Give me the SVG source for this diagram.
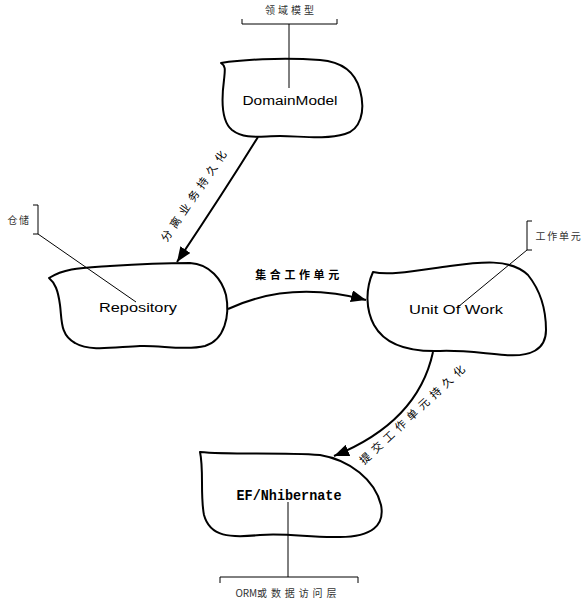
<svg xmlns="http://www.w3.org/2000/svg" width="588" height="607" viewBox="0 0 588 607">
<style>
.shape{fill:#fff;stroke:#000;stroke-width:2;stroke-linejoin:round}
.conn{fill:none;stroke:#000;stroke-width:2}
.co{fill:none;stroke:#000;stroke-width:1}
.lbl{font-family:"Liberation Sans",Arial,sans-serif;font-size:12px;fill:#000;text-anchor:middle}
.cn{font-family:"Noto Sans CJK SC",sans-serif;font-size:11px;fill:#000;text-anchor:middle}
.note{font-family:"Noto Sans CJK SC",sans-serif;font-size:10px;fill:#333;text-anchor:middle}
</style>
<defs>
<marker id="arr" markerUnits="userSpaceOnUse" markerWidth="16" markerHeight="12" refX="15" refY="6" orient="auto">
<path d="M0,0 L15,6 L0,12 Z" fill="#000"/>
</marker>
</defs>
<rect width="588" height="607" fill="#fff"/>
<g id="connectors">
<path class="conn" d="M258,137 Q222,195 177,262" marker-end="url(#arr)"/>
<path class="conn" d="M228,309 Q290,280 366,300" marker-end="url(#arr)"/>
<path class="conn" d="M433,352 Q418,422 334,456" marker-end="url(#arr)"/>
<text class="cn" letter-spacing="5" transform="translate(195,194) rotate(-55.7)" dy="4">分离业务持久化</text>
<text class="cn" font-weight="bold" letter-spacing="3.6" x="299" y="279">集合工作单元</text>
<text class="cn" letter-spacing="5" transform="translate(414,413) rotate(-43)" dy="4">提交工作单元持久化</text>
</g>
<g id="domainmodel">
<path class="shape" d="M221,63 C240,60 280,57 320,60 C345,62 356,75 360,90 C366,112 360,130 345,134 C325,140 300,136 280,136 C260,136 245,140 232,130 C220,120 222,95 224,80 C225,70 226,66 221,63 Z"/>
<path class="co" d="M242,19 V24 H337 V19 M289,24 V88"/>
<text class="note" letter-spacing="3" x="291" y="14">领域模型</text>
<text class="lbl" x="290" y="105" textLength="95" lengthAdjust="spacingAndGlyphs">DomainModel</text>
</g>
<g id="repository">
<path class="shape" d="M49,278 C65,268 80,268 110,266 C140,264 170,263 190,263 C210,264 222,280 226,295 C230,315 225,340 205,346 C185,351 160,345 140,346 C115,347 90,352 75,343 C60,335 62,320 60,305 C58,290 55,283 49,278 Z"/>
<path class="co" d="M33,205 H38 V234 H33 M38,234 L136,302"/>
<text class="note" letter-spacing="1.5" x="19" y="224">仓储</text>
<text class="lbl" x="138" y="312" textLength="78" lengthAdjust="spacingAndGlyphs">Repository</text>
</g>
<g id="unitofwork">
<path class="shape" d="M373,272 C390,276 420,270 450,266 C480,262 510,258 528,275 C540,290 546,310 546,330 C546,350 530,357 505,355 C480,353 460,350 440,351 C410,352 385,345 374,325 C366,310 365,290 373,272 Z"/>
<path class="co" d="M532,221 H527 V250 H532 M527,250 L458,307"/>
<text class="note" letter-spacing="1.75" x="559" y="240">工作单元</text>
<text class="lbl" x="456" y="314" textLength="94" lengthAdjust="spacingAndGlyphs">Unit Of Work</text>
</g>
<g id="efnhibernate">
<path class="shape" d="M200,452 C230,455 280,452 320,455 C350,460 375,480 381,505 C385,525 372,537 340,537 C310,538 290,533 260,535 C230,538 210,537 204,515 C200,495 204,470 200,452 Z"/>
<path class="co" stroke="#666" d="M288,502 V577"/>
<path class="co" d="M220,583 V577 H358 V583"/>
<text class="note" x="288" y="597" textLength="105">ORM<tspan letter-spacing="4">或数据访问层</tspan></text>
<text x="289" y="500" font-family="'Liberation Mono','Courier New',monospace" font-weight="bold" font-size="14" text-anchor="middle" textLength="105" lengthAdjust="spacingAndGlyphs">EF/Nhibernate</text>
</g>
</svg>
